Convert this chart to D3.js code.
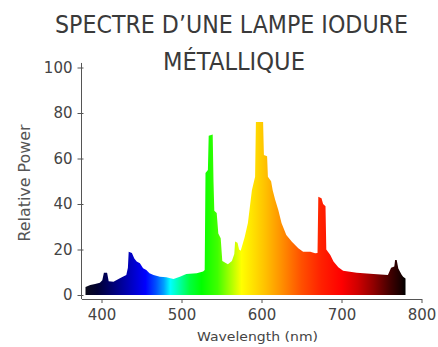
<!DOCTYPE html>
<html>
<head>
<meta charset="utf-8">
<script src="https://cdn.jsdelivr.net/npm/d3@7"></script>
<style>
  html, body { margin: 0; padding: 0; background: #fff; }
  svg { display: block; }
</style>
</head>
<body>
<svg id="chart" width="438" height="347"></svg>
<script>
// ---- data ----
const titleLines = ["SPECTRE D\u2019UNE LAMPE IODURE", "MÉTALLIQUE"];
const xLabel = "Wavelength (nm)";
const yLabel = "Relative Power";
const xTicks = [400, 500, 600, 700, 800];
const yTicks = [0, 20, 40, 60, 80, 100];

const wavelengths = [380,386,392,398,401,403,407,409,415,423,431,433,434,438,441,444,448,452,456,460,465,473,481,490,498,506,519,527,529,530,533,534,539,540,541,544,546,549,551,558,563,566,567,570,572,574,579,583,588,592,593,602,603,607,608,612,614,617,621,625,631,638,646,652,661,667,670,671,675,677,680,681,686,690,696,702,719,740,758,762,766,767,769,771,775,777,780];
const power =       [3.5,4.4,4.8,5.4,6.5,9.8,9.8,6.0,5.8,7.4,8.8,12, 19, 18.5,16, 14.7,14, 11.8,11, 9.6,8.8,8,  7.8,7,  8,  9.2,9.6,10.3,11, 53.6,55, 70, 70.5,50, 37, 36, 27, 25, 15, 13.5,15, 18, 23.5,23, 20, 19.5,25.5,31.6,46, 52, 76, 76, 61.5,61, 52, 50, 46, 42, 37.4,31.6,26.4,23.4,20.6,19, 19, 18.3,18.5,43.2,42.5,40, 39, 20, 17.6,14.7,12.2,10.7,9.8,9.2,8.8,12, 12.5,15.4,15.4,11.7,9,  8,  7.3];

const gradWl =     [380,395,410,425,440,455,468,478,486,498,510,525,545,560,575,590,605,625,650,675,700,720,740,760,775,780];
const gradColors = ["#0a0a1a","#000033","#000066","#000099","#0000cc","#0000ff","#0050ff","#00a0ff","#00ffff","#00ffa0","#00ff40","#00ff00","#40ff00","#a0ff00","#ffff00","#ffe000","#ffc000","#ff9000","#ff5000","#ff2000","#ff0000","#d00000","#900000","#450000","#150000","#000000"];

// ---- chart ----
const svg = d3.select("#chart");
const x = d3.scaleLinear().domain([375, 800]).range([81.5, 421.5]);
const y = d3.scaleLinear().domain([0, 100]).range([295, 67.5]);

const data = wavelengths.map((w, i) => ({w, v: power[i]}));

// gradient
const defs = svg.append("defs");
const grad = defs.append("linearGradient")
  .attr("id", "spec")
  .attr("gradientUnits", "userSpaceOnUse")
  .attr("x1", x(gradWl[0])).attr("x2", x(gradWl[gradWl.length - 1]))
  .attr("y1", 0).attr("y2", 0);
const span = gradWl[gradWl.length - 1] - gradWl[0];
grad.selectAll("stop").data(gradWl).join("stop")
  .attr("offset", d => (d - gradWl[0]) / span)
  .attr("stop-color", (d, i) => gradColors[i]);

const area = d3.area()
  .x(d => x(d.w))
  .y0(y(0))
  .y1(d => y(d.v))
  .curve(d3.curveLinear);

svg.append("path")
  .datum(data)
  .attr("d", area)
  .attr("fill", "url(#spec)");

// x axis
const axisColor = "#555";
const gx = svg.append("g")
  .attr("transform", `translate(0,${y(0) + 4})`)
  .call(d3.axisBottom(x).tickValues(xTicks).tickSizeInner(4).tickSizeOuter(0).tickPadding(6));
gx.select(".domain").attr("stroke", axisColor);
gx.selectAll(".tick line").attr("stroke", axisColor);
gx.selectAll(".tick text")
  .attr("fill", "#444")
  .style("font-family", "DejaVu Sans, sans-serif")
  .style("font-size", "15px");

// y axis
const gy = svg.append("g")
  .attr("transform", `translate(${x(375)},0)`)
  .call(d3.axisLeft(y).tickValues(yTicks).tickSizeInner(4).tickSizeOuter(0).tickPadding(5));
gy.select(".domain").remove();
gy.append("line")
  .attr("y1", y(102)).attr("y2", y(-1.8))
  .attr("stroke", axisColor);
gy.selectAll(".tick line").attr("x1", -4).attr("x2", 2).attr("stroke", axisColor);
gy.selectAll(".tick text")
  .attr("fill", "#444")
  .style("font-family", "DejaVu Sans, sans-serif")
  .style("font-size", "15px");

// axis labels
svg.append("text")
  .attr("x", 257.5).attr("y", 341)
  .attr("text-anchor", "middle")
  .attr("textLength", 121).attr("lengthAdjust", "spacingAndGlyphs")
  .attr("fill", "#444")
  .style("font-family", "DejaVu Sans, sans-serif")
  .style("font-size", "13px")
  .text(xLabel);

svg.append("text")
  .attr("transform", "translate(30,183) rotate(-90)")
  .attr("text-anchor", "middle")
  .attr("textLength", 117).attr("lengthAdjust", "spacingAndGlyphs")
  .attr("fill", "#555")
  .style("font-family", "DejaVu Sans, sans-serif")
  .style("font-size", "15px")
  .text(yLabel);

// title
const titleX = [231.5, 234];
const titleY = [33, 70];
const titleW = [353, 142];
titleLines.forEach((t, i) => {
  svg.append("text")
    .attr("x", titleX[i]).attr("y", titleY[i])
    .attr("text-anchor", "middle")
    .attr("textLength", titleW[i]).attr("lengthAdjust", "spacingAndGlyphs")
    .attr("fill", "#3a3a3a")
    .style("font-family", "DejaVu Sans, sans-serif")
    .style("font-size", "24px")
    .text(t);
});
</script>
</body>
</html>
